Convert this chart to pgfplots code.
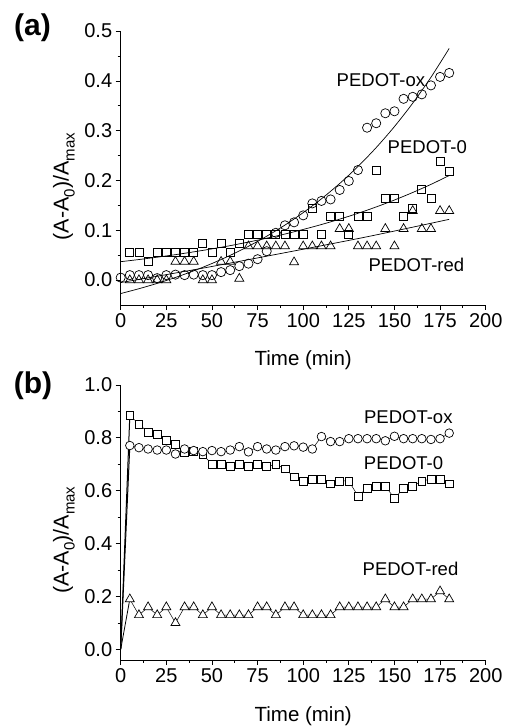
\documentclass[border=0pt]{standalone}
\usepackage{pgfplots}
\pgfplotsset{compat=1.18}
\usepackage{fontspec}
\setmainfont{Liberation Sans}

\newcommand\sub[1]{\raisebox{-0.28em}{\fontsize{15}{15}\selectfont #1}}
\pgfplotsset{
  panel/.style={
    scale only axis, width=365pt,
    xmin=0, xmax=200, clip=false,
    axis x line*=bottom, axis y line*=left,
    tick align=outside,
    xtick={0,25,...,200},
    minor x tick num=1, minor y tick num=1,
    major tick length=5pt, minor tick length=3pt,
    every tick/.style={black, line width=0.8pt},
    axis line style={line width=0.8pt},
    tick label style={font=\fontsize{20}{22}\selectfont},
    /pgf/number format/assume math mode=true,
    yticklabel style={/pgf/number format/.cd, fixed, fixed zerofill, precision=1},
    xlabel={Time (min)},
    ylabel={(A-A\sub{0})/A\sub{max}},
    xlabel style={font=\fontsize{20.5}{22}\selectfont},
    ylabel style={font=\fontsize{21.5}{22}\selectfont},
  },
}
\tikzset{lbl/.style={font=\fontsize{18.5}{19}\selectfont, inner sep=0pt}}

\begin{document}
\begin{tikzpicture}
\path[use as bounding box] (0pt,0pt) rectangle (506pt,726pt);

% ---- panel (a)
\begin{axis}[panel, at={(120.7pt,421pt)}, anchor=south west,
  height=273.9pt, ymin=-0.05, ymax=0.5, ytick={0,0.1,...,0.5},
  xlabel style={at={(axis description cs:0.5,-0.222)}, anchor=base},
  ylabel style={at={(axis description cs:-0.143,0.432)}, anchor=base}]
% PEDOT-ox
\addplot[only marks, mark=o, mark size=4.6pt, mark options={line width=0.7pt}] coordinates {
(0,0.005) (5,0.01) (10,0.01) (15,0.01) (20,0.004) (25,0.01) (30,0.011) (35,0.01)
(40,0.011) (45,0.01) (50,0.01) (55,0.016) (60,0.02) (65,0.028) (70,0.033) (75,0.042)
(80,0.058) (85,0.095) (90,0.11) (95,0.116) (100,0.13) (105,0.154) (110,0.159)
(115,0.162) (120,0.181) (125,0.199) (130,0.221) (135,0.306) (140,0.315) (145,0.335)
(150,0.339) (155,0.364) (160,0.368) (165,0.373) (170,0.391) (175,0.408) (180,0.416)};
% PEDOT-0
\addplot[only marks, mark=square, mark size=4pt, mark options={line width=0.7pt}] coordinates {
(5,0.055) (10,0.055) (15,0.037) (20,0.055) (25,0.055) (30,0.055) (35,0.055) (40,0.055)
(45,0.074) (50,0.055) (55,0.074) (60,0.055) (65,0.074) (70,0.092) (75,0.092) (80,0.092)
(85,0.092) (90,0.092) (95,0.092) (100,0.092) (105,0.145) (110,0.092) (115,0.128)
(120,0.128) (125,0.092) (130,0.128) (135,0.128) (140,0.220) (145,0.165) (150,0.165)
(155,0.128) (160,0.145) (165,0.183) (170,0.165) (175,0.238) (180,0.219)};
% PEDOT-red
\addplot[only marks, mark=triangle, mark size=5.2pt, mark options={line width=0.7pt}] coordinates {
(5,0) (10,0) (15,0) (20,0) (25,0) (30,0.037) (35,0.037) (40,0.037) (45,0) (50,0)
(55,0.037) (60,0.037) (65,0.003) (70,0.068) (75,0.068) (80,0.068) (85,0.068) (90,0.068)
(95,0.036) (100,0.068) (105,0.068) (110,0.068) (115,0.068) (120,0.103) (125,0.103)
(130,0.068) (135,0.068) (140,0.068) (145,0.103) (150,0.068) (155,0.103) (160,0.139)
(165,0.103) (170,0.103) (175,0.139) (180,0.139)};
% fitted curves
\addplot[no marks, smooth, line width=0.7pt] coordinates {
(0,-0.027) (10,-0.0173) (20,-0.0066) (30,0.0053) (40,0.0186) (50,0.0333) (60,0.0497)
(70,0.0679) (80,0.0881) (90,0.1105) (100,0.1355) (110,0.1632) (120,0.194) (130,0.2281)
(140,0.2661) (150,0.3083) (160,0.3552) (170,0.4073) (180,0.4652)};
\addplot[no marks, smooth, line width=0.7pt] coordinates {
(0,0.037) (10,0.0413) (20,0.046) (30,0.0511) (40,0.0567) (50,0.0627) (60,0.0692)
(70,0.0764) (80,0.0841) (90,0.0925) (100,0.1017) (110,0.1116) (120,0.1224) (130,0.1341)
(140,0.1469) (150,0.1608) (160,0.1759) (170,0.1922) (180,0.21)};
\addplot[no marks, smooth, line width=0.7pt] coordinates {
(0,-0.005) (45,0.024) (90,0.055) (135,0.087) (180,0.122)};
\node[lbl] at (axis cs:142.6,0.402) {PEDOT-ox};
\node[lbl] at (axis cs:168,0.266) {PEDOT-0};
\node[lbl] at (axis cs:162,0.0315) {PEDOT-red};
\end{axis}

% ---- panel (b)
\begin{axis}[panel, at={(120.7pt,66pt)}, anchor=south west,
  height=275pt, ymin=-0.04, ymax=1.0, ytick={0,0.2,...,1.0},
  xlabel style={at={(axis description cs:0.5,-0.224)}, anchor=base},
  ylabel style={at={(axis description cs:-0.143,0.436)}, anchor=base}]
\addplot[no marks, line width=1pt] coordinates {(0,0) (5,0.886)};
\addplot[no marks, line width=1pt] coordinates {(0,0) (5,0.771)};
\addplot[no marks, line width=0.8pt] coordinates {(0,0) (5,0.19)};
% PEDOT-red
\addplot[line width=0.5pt, mark=triangle*, mark size=5.2pt, mark options={fill=white, line width=0.7pt}] coordinates {
(5,0.19) (10,0.13) (15,0.16) (20,0.13) (25,0.16) (30,0.10) (35,0.16) (40,0.16) (45,0.13)
(50,0.16) (55,0.13) (60,0.13) (65,0.13) (70,0.13) (75,0.16) (80,0.16) (85,0.13) (90,0.16)
(95,0.16) (100,0.13) (105,0.13) (110,0.13) (115,0.13) (120,0.16) (125,0.16) (130,0.16)
(135,0.16) (140,0.16) (145,0.19) (150,0.16) (155,0.16) (160,0.19) (165,0.19) (170,0.19)
(175,0.22) (180,0.19)};
% PEDOT-0
\addplot[line width=0.5pt, mark=square*, mark size=3.9pt, mark options={fill=white, line width=0.7pt}] coordinates {
(5,0.886) (10,0.851) (15,0.822) (20,0.812) (25,0.792) (30,0.777) (35,0.745) (40,0.749)
(45,0.737) (50,0.700) (55,0.700) (60,0.691) (65,0.700) (70,0.691) (75,0.700) (80,0.691)
(85,0.700) (90,0.683) (95,0.653) (100,0.636) (105,0.644) (110,0.644) (115,0.626)
(120,0.637) (125,0.637) (130,0.580) (135,0.609) (140,0.618) (145,0.618) (150,0.571)
(155,0.609) (160,0.618) (165,0.637) (170,0.644) (175,0.644) (180,0.626)};
% PEDOT-ox
\addplot[line width=0.5pt, mark=*, mark size=4.3pt, mark options={fill=white, line width=0.7pt}] coordinates {
(5,0.771) (10,0.763) (15,0.758) (20,0.754) (25,0.754) (30,0.739) (35,0.758) (40,0.752)
(45,0.748) (50,0.752) (55,0.748) (60,0.754) (65,0.767) (70,0.747) (75,0.767) (80,0.758)
(85,0.754) (90,0.767) (95,0.770) (100,0.765) (105,0.758) (110,0.805) (115,0.786)
(120,0.786) (125,0.797) (130,0.797) (135,0.797) (140,0.797) (145,0.789) (150,0.806)
(155,0.797) (160,0.797) (165,0.797) (170,0.794) (175,0.797) (180,0.818)};
\node[lbl] at (axis cs:157.6,0.880) {PEDOT-ox};
\node[lbl] at (axis cs:155,0.706) {PEDOT-0};
\node[lbl] at (axis cs:158.8,0.303) {PEDOT-red};
\end{axis}

\node[font=\bfseries\fontsize{30}{32}\selectfont] at (32.5pt,698pt) {(a)};
\node[font=\bfseries\fontsize{30}{32}\selectfont] at (33pt,340pt) {(b)};
\end{tikzpicture}
\end{document}
